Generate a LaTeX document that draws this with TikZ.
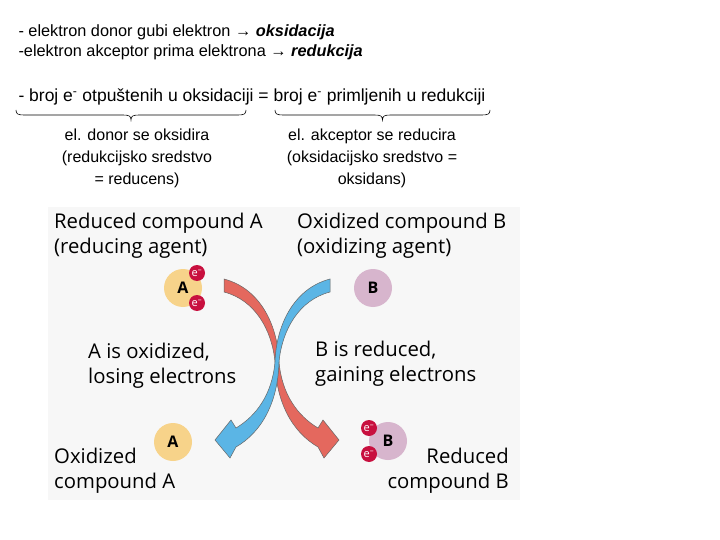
\documentclass[tikz,border=0pt]{standalone}
\usepackage{fontspec}
\setmainfont{Liberation Sans}
\newfontfamily\figfont{Open Sans}
\definecolor{redarrow}{HTML}{E4685E}
\definecolor{bluearrow}{HTML}{5BB5E5}
\definecolor{molA}{HTML}{F7D38A}
\definecolor{molB}{HTML}{D7B5CD}
\definecolor{elec}{HTML}{C8103F}
\tikzset{
  toptext/.style={anchor=base west, font=\fontsize{16.3}{18}\selectfont},
  midtext/.style={align=center, font=\fontsize{16}{22}\selectfont},
  figtext/.style={align=left, font=\figfont\fontsize{20.3}{24.5}\selectfont, inner sep=0pt},
  mol/.style={circle, minimum size=38pt, inner sep=0pt, font=\figfont\bfseries\fontsize{16}{16}\selectfont},
  electron/.style={circle, fill=elec, minimum size=16pt, inner sep=0pt, text=white, font=\figfont\fontsize{11}{11}\selectfont},
  bigarrow/.style={draw=black!60, line width=0.5pt},
  bracket/.style={line width=0.6pt}
}
% brace pointing down: left x, right x, top y
\newcommand{\downbrace}[3]{%
  \draw[bracket] (#1,#3) .. controls (#1,#3+4) and (#1+2,#3+5) .. (#1+8,#3+5)
    -- ({(#1+#2)/2-8},#3+5) .. controls ({(#1+#2)/2-2},#3+5) and ({(#1+#2)/2},#3+6) .. ({(#1+#2)/2},#3+10)
    .. controls ({(#1+#2)/2},#3+6) and ({(#1+#2)/2+2},#3+5) .. ({(#1+#2)/2+8},#3+5)
    -- (#2-8,#3+5) .. controls (#2-2,#3+5) and (#2,#3+4) .. (#2,#3);}
\begin{document}
\begin{tikzpicture}[x=1pt, y=-1pt]
    \useasboundingbox[fill=white] (0,0) rectangle (720,540);

    % Text lines
    \node[toptext] (line1) at (15,37) {- elektron donor gubi elektron → \textbf{\textit{oksidacija}}};
    \node[toptext] (line2) at (15,57) {-elektron akceptor prima elektrona → \textbf{\textit{redukcija}}};
    \node[toptext, font=\fontsize{17.5}{18}\selectfont] (line3) at (15,102) {- broj e\textsuperscript{-} otpuštenih u oksidaciji = broj e\textsuperscript{-} primljenih u redukciji};

    % Braces
    \downbrace{16}{246}{110}
    \downbrace{275}{490}{110}
    \node[midtext] (donor) at (137,158) {el. donor se oksidira\\(redukcijsko sredstvo\\= reducens)};
    \node[midtext] (akceptor) at (372,158) {el. akceptor se reducira\\(oksidacijsko sredstvo =\\oksidans)};

    % Figure background
    \fill[gray!6] (48,207) rectangle (520,500);

    % Figure labels
    \node[figtext, anchor=north west] (redA) at (54,213) {Reduced compound A\\(reducing agent)};
    \node[figtext, anchor=north west] (oxB) at (297,213) {Oxidized compound B\\(oxidizing agent)};
    \node[figtext, anchor=north west] (Aox) at (88,343) {A is oxidized,\\losing electrons};
    \node[figtext, anchor=north west] (Bred) at (315,341) {B is reduced,\\gaining electrons};
    \node[figtext, anchor=north west] (oxA) at (54,448) {Oxidized\\compound A};
    \node[figtext, anchor=north east, align=right] (redB) at (509,448) {Reduced\\compound B};

    % Molecules
    \node[mol, fill=molA] (A1) at (183,288) {A};
    \node[electron] (e1) at (197,273) {e\textsuperscript{–}};
    \node[electron] (e2) at (197,303) {e\textsuperscript{–}};
    \node[mol, fill=molB] (B1) at (373,288) {B};
    \node[mol, fill=molA] (A2) at (173,442) {A};
    \node[mol, fill=molB] (B2) at (388,441) {B};
    \node[electron] (e3) at (369,428) {e\textsuperscript{–}};
    \node[electron] (e4) at (369,454) {e\textsuperscript{–}};

    % Crossing arrows
    \filldraw[bigarrow, fill=redarrow] (224,279) .. controls (262,289) and (278,328) .. (279,362)
        .. controls (282,395) and (298,416) .. (318,428) -- (323,420) -- (339,440) -- (324,458) -- (318,447)
        .. controls (292,432) and (276,402) .. (275,362) .. controls (272,330) and (255,300) .. (224,292) -- cycle;
    \begin{scope}[shift={(554,0)}, xscale=-1]
    \filldraw[bigarrow, fill=bluearrow] (224,279) .. controls (262,289) and (278,328) .. (279,362)
        .. controls (282,395) and (298,416) .. (318,428) -- (323,420) -- (339,440) -- (324,458) -- (318,447)
        .. controls (292,432) and (276,402) .. (275,362) .. controls (272,330) and (255,300) .. (224,292) -- cycle;
    \end{scope}
\end{tikzpicture}
\end{document}
